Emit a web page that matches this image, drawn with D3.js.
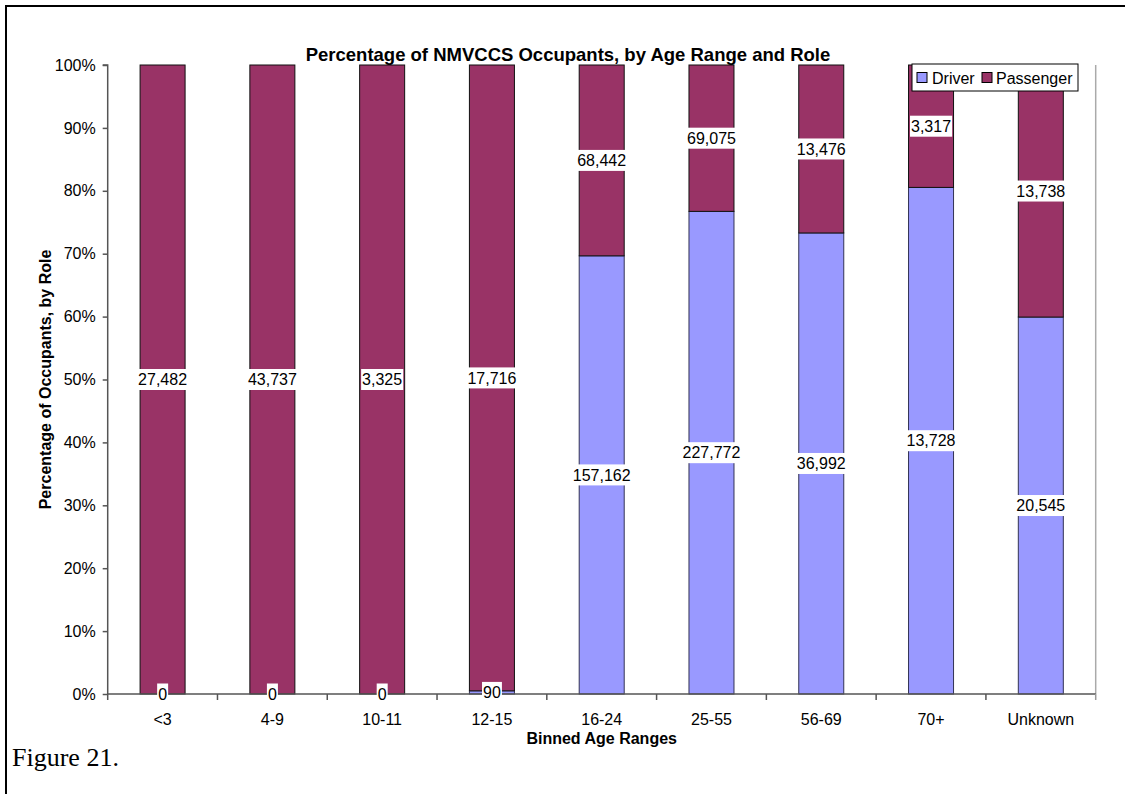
<!DOCTYPE html>
<html>
<head>
<meta charset="utf-8">
<script src="https://cdn.jsdelivr.net/npm/d3@7"></script>
<style>
  html, body { margin: 0; padding: 0; background: #fff; }
  svg { display: block; }
</style>
</head>
<body>
<svg id="chart" width="1125" height="794"></svg>
<script>
const categories = ["<3", "4-9", "10-11", "12-15", "16-24", "25-55", "56-69", "70+", "Unknown"];
const driverCounts = [0, 0, 0, 90, 157162, 227772, 36992, 13728, 20545];
const passengerCounts = [27482, 43737, 3325, 17716, 68442, 69075, 13476, 3317, 13738];
const yTickValues = [0, 0.1, 0.2, 0.3, 0.4, 0.5, 0.6, 0.7, 0.8, 0.9, 1.0];
const seriesNames = ["Driver", "Passenger"];
const seriesColors = ["#9999FF", "#993366"];
const seriesStrokes = ["#333355", "#111111"];

const svg = d3.select("#chart");
const FONT = "'Liberation Sans', Arial, sans-serif";

// Outer frame
svg.append("rect")
  .attr("x", 6).attr("y", 6).attr("width", 1300).attr("height", 900)
  .attr("fill", "none").attr("stroke", "#000").attr("stroke-width", 2);

const plot = { left: 107.7, right: 1095.7, top: 65, bottom: 694 };

const x = d3.scaleBand()
  .domain(categories)
  .range([plot.left, plot.right])
  .paddingInner(0.59)
  .paddingOuter(0.295);

const xTicks = d3.scaleBand().domain(categories).range([plot.left, plot.right]).padding(0);

const y = d3.scaleLinear().domain([0, 1]).range([plot.bottom, plot.top]);

// Data: stack shares
const rows = categories.map((c, i) => {
  const tot = driverCounts[i] + passengerCounts[i];
  return { cat: c, Driver: driverCounts[i] / tot, Passenger: passengerCounts[i] / tot,
           counts: { Driver: driverCounts[i], Passenger: passengerCounts[i] } };
});
const stack = d3.stack().keys(seriesNames)(rows);

// plot area right border (light gray)
svg.append("line")
  .attr("x1", plot.right).attr("x2", plot.right)
  .attr("y1", plot.top).attr("y2", plot.bottom)
  .attr("stroke", "#aaaaaa").attr("stroke-width", 1.5);

// bars
stack.forEach((layer, si) => {
  svg.append("g").selectAll("rect")
    .data(layer)
    .join("rect")
    .attr("x", d => x(d.data.cat))
    .attr("width", x.bandwidth())
    .attr("y", d => y(d[1]))
    .attr("height", d => y(d[0]) - y(d[1]))
    .attr("fill", seriesColors[si])
    .attr("stroke", seriesStrokes[si])
    .attr("stroke-width", 1);
});

// Y axis
const yAxis = d3.axisLeft(y)
  .tickValues(yTickValues)
  .tickFormat(d => Math.round(d * 100) + "%")
  .tickSize(5)
  .tickPadding(7);
const gy = svg.append("g").attr("transform", `translate(${plot.left},0)`).call(yAxis);
gy.select(".domain").attr("stroke", "#555").attr("stroke-width", 1.5).attr("d", `M-5,${plot.top}H0V${plot.bottom}`);
gy.selectAll(".tick line").attr("stroke", "#555").attr("stroke-width", 1.5);
gy.selectAll(".tick text").attr("font-family", FONT).attr("font-size", 16).attr("fill", "#000");

// X axis
const gx = svg.append("g").attr("transform", `translate(0,${plot.bottom})`);
gx.append("line")
  .attr("x1", plot.left).attr("x2", plot.right).attr("y1", 0).attr("y2", 0)
  .attr("stroke", "#555").attr("stroke-width", 1.5);
const boundaries = categories.map(c => xTicks(c)).concat([plot.right]);
gx.selectAll("line.tk").data(boundaries).join("line").attr("class", "tk")
  .attr("x1", d => d).attr("x2", d => d).attr("y1", 0).attr("y2", 6)
  .attr("stroke", (d, i) => i === boundaries.length - 1 ? "#999" : "#555").attr("stroke-width", 1.5);
gx.selectAll("text").data(categories).join("text")
  .attr("x", d => x(d) + x.bandwidth() / 2)
  .attr("y", 31)
  .attr("text-anchor", "middle")
  .attr("font-family", FONT).attr("font-size", 16).attr("fill", "#000")
  .text(d => d);

// data labels with white boxes
const fmt = d3.format(",");
const labelG = svg.append("g");
stack.forEach((layer, si) => {
  layer.forEach(d => {
    const cx = x(d.data.cat) + x.bandwidth() / 2;
    const cy = y((d[0] + d[1]) / 2);
    const g = labelG.append("g");
    const t = g.append("text")
      .attr("x", cx).attr("y", cy).attr("dy", "0.36em")
      .attr("text-anchor", "middle")
      .attr("font-family", FONT).attr("font-size", 16).attr("fill", "#000")
      .text(fmt(d.data.counts[seriesNames[si]]));
    const bb = t.node().getBBox();
    g.insert("rect", "text")
      .attr("x", bb.x - 1).attr("y", cy - 10.5)
      .attr("width", bb.width + 2).attr("height", 21)
      .attr("fill", "#fff");
  });
});

// Title
svg.append("text")
  .attr("x", 568).attr("y", 61)
  .attr("text-anchor", "middle")
  .attr("font-family", FONT).attr("font-size", 18.5).attr("font-weight", "bold")
  .text("Percentage of NMVCCS Occupants, by Age Range and Role");

// Axis titles
svg.append("text")
  .attr("x", (plot.left + plot.right) / 2).attr("y", 744)
  .attr("text-anchor", "middle")
  .attr("font-family", FONT).attr("font-size", 16).attr("font-weight", "bold")
  .text("Binned Age Ranges");

svg.append("text")
  .attr("transform", `translate(51,${(plot.top + plot.bottom) / 2}) rotate(-90)`)
  .attr("text-anchor", "middle")
  .attr("font-family", FONT).attr("font-size", 16).attr("font-weight", "bold")
  .text("Percentage of Occupants, by Role");

// Legend
const lg = svg.append("g");
lg.append("rect").attr("x", 912).attr("y", 64).attr("width", 166).attr("height", 27)
  .attr("fill", "#fff").attr("stroke", "#000").attr("stroke-width", 1);
const legendItems = [{ name: seriesNames[0], sx: 917, tx: 932 }, { name: seriesNames[1], sx: 982, tx: 996 }];
legendItems.forEach((it, i) => {
  lg.append("rect").attr("x", it.sx).attr("y", 72.5).attr("width", 10).attr("height", 10)
    .attr("fill", seriesColors[i]).attr("stroke", "#000").attr("stroke-width", 1);
  lg.append("text").attr("x", it.tx).attr("y", 83.5)
    .attr("font-family", FONT).attr("font-size", 16).attr("fill", "#000")
    .text(it.name);
});

// Figure caption
svg.append("text")
  .attr("x", 12).attr("y", 766)
  .attr("font-family", "'Liberation Serif', 'Times New Roman', serif")
  .attr("font-size", 26)
  .text("Figure 21.");
</script>
</body>
</html>
